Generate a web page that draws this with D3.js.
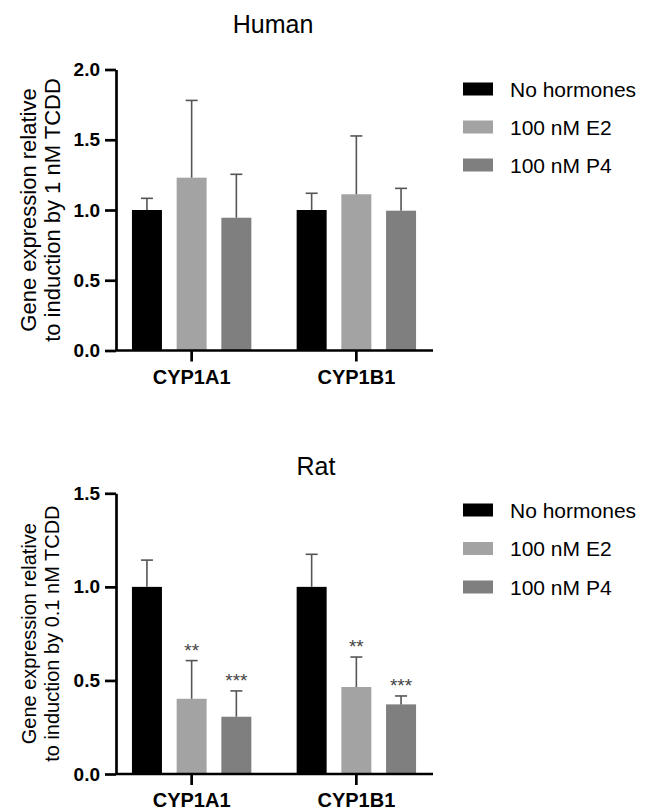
<!DOCTYPE html>
<html>
<head>
<meta charset="utf-8">
<script src="https://cdn.jsdelivr.net/npm/d3@7"></script>
<style>
  body{margin:0;background:#fff;}
  svg text{font-family:"Liberation Sans",Arial,Helvetica,sans-serif;}
</style>
</head>
<body>
<div id="chart"></div>
<script>
const genes = ["CYP1A1","CYP1B1"];
const series = ["No hormones","100 nM E2","100 nM P4"];
const colors = ["#000000","#a3a3a3","#7f7f7f"];

// human panel: mean and upper SD per gene, per series
const humanMean = [[1.0,1.23,0.945],[1.0,1.112,0.995]];
const humanErr  = [[0.083,0.55,0.309],[0.119,0.415,0.159]];
const humanTicks = [0,0.5,1.0,1.5,2.0];

// rat panel
const ratMean = [[1.0,0.402,0.306],[1.0,0.465,0.372]];
const ratErr  = [[0.143,0.204,0.138],[0.174,0.16,0.045]];
const ratStars = [["","**","***"],["","**","***"]];
const ratTicks = [0,0.5,1.0,1.5];

const W = 649, H = 812;
const svg = d3.select("#chart").append("svg")
  .attr("width",W).attr("height",H)
  .attr("viewBox","0 0 "+W+" "+H);

function drawPanel(o){
  const g = svg.append("g");
  const y = d3.scaleLinear().domain([0,o.ymax]).range([o.y0,o.y1]);
  const x = d3.scaleBand().domain(genes).range([109.3,438.7]);
  const xi = d3.scaleBand().domain(series)
    .range([x.bandwidth()/2-59.7,x.bandwidth()/2+59.7])
    .paddingInner(0.329).paddingOuter(0);

  const rows = [];
  genes.forEach((gene,gi)=>{
    series.forEach((s,si)=>{
      rows.push({gene,s,si,v:o.mean[gi][si],e:o.err[gi][si],star:o.stars?o.stars[gi][si]:""});
    });
  });

  g.selectAll(".bar").data(rows).enter().append("rect")
    .attr("x",d=>x(d.gene)+xi(d.s))
    .attr("width",xi.bandwidth())
    .attr("y",d=>y(d.v))
    .attr("height",d=>o.y0-y(d.v))
    .attr("fill",d=>colors[d.si]);

  const cx = d=>x(d.gene)+xi(d.s)+xi.bandwidth()/2;
  g.selectAll(".err").data(rows).enter().append("line")
    .attr("x1",cx).attr("x2",cx)
    .attr("y1",d=>y(d.v)).attr("y2",d=>y(d.v+d.e))
    .attr("stroke","#555").attr("stroke-width",1.6);
  g.selectAll(".cap").data(rows).enter().append("line")
    .attr("x1",d=>cx(d)-6).attr("x2",d=>cx(d)+6)
    .attr("y1",d=>y(d.v+d.e)).attr("y2",d=>y(d.v+d.e))
    .attr("stroke","#555").attr("stroke-width",1.6);

  g.selectAll(".star").data(rows.filter(d=>d.star)).enter().append("text")
    .attr("x",cx).attr("y",d=>y(d.v+d.e)-4)
    .attr("text-anchor","middle")
    .style("font-size","19px").attr("fill","#444")
    .text(d=>d.star);

  // axes
  const ya = g.append("g").attr("transform","translate(116,0)")
    .call(d3.axisLeft(y).tickValues(o.ticks).tickFormat(d3.format(".1f"))
      .tickSize(11).tickPadding(5).tickSizeOuter(0));
  ya.selectAll("path,line").attr("stroke","#000").attr("stroke-width",2.7);
  ya.selectAll("text").style("font-size","19px").style("font-weight","bold").attr("fill","#000");

  const xa = g.append("g").attr("transform","translate(0,"+o.y0+")")
    .call(d3.axisBottom(x).tickSize(11).tickPadding(8));
  xa.select(".domain").remove();
  xa.selectAll("line").attr("stroke","#000").attr("stroke-width",2.7);
  xa.selectAll("text").style("font-size","20px").style("font-weight","bold").attr("fill","#000");
  g.append("line").attr("x1",116).attr("x2",433).attr("y1",o.y0).attr("y2",o.y0)
    .attr("stroke","#000").attr("stroke-width",2.7);

  // title
  g.append("text").attr("x",o.tx).attr("y",o.ty).attr("text-anchor","middle")
    .style("font-size","25px").text(o.title);

  // y label
  const mid = (o.y0+o.y1)/2;
  const yl = g.append("text").attr("transform","translate(36,"+mid+") rotate(-90)")
    .attr("text-anchor","middle").style("font-size",o.lfs+"px");
  yl.append("tspan").attr("x",0).attr("y",0).text(o.label[0]);
  yl.append("tspan").attr("x",0).attr("y",o.lgap).text(o.label[1]);

  // legend
  const lg = g.append("g").attr("transform","translate(463,"+o.ly+")");
  series.forEach((s,i)=>{
    lg.append("rect").attr("x",0).attr("y",i*o.lstep-6.5).attr("width",30).attr("height",13)
      .attr("fill",colors[i]);
    lg.append("text").attr("x",47).attr("y",i*o.lstep+7.5).style("font-size","21px").text(s);
  });
}

drawPanel({mean:humanMean,err:humanErr,ticks:humanTicks,ymax:2,y0:350.5,y1:69.5,
  title:"Human",tx:273,ty:33,label:["Gene expression relative","to induction by 1 nM TCDD"],
  lfs:22,lgap:24,ly:89,lstep:38});
drawPanel({mean:ratMean,err:ratErr,stars:ratStars,ticks:ratTicks,ymax:1.5,y0:774,y1:493.3,
  title:"Rat",tx:316,ty:475,label:["Gene expression relative","to induction by 0.1 nM TCDD"],
  lfs:20,lgap:23,ly:510,lstep:38.5});
</script>
</body>
</html>
